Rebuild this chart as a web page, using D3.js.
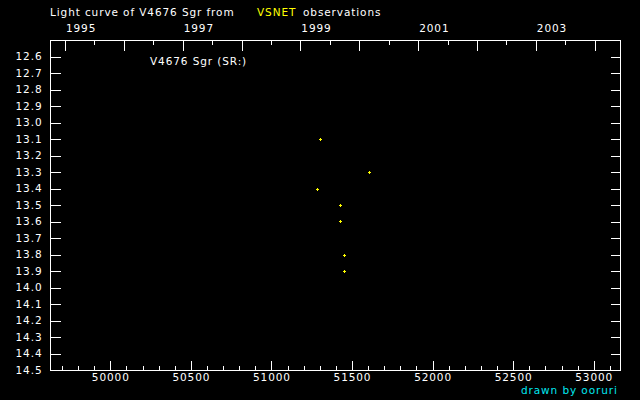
<!DOCTYPE html>
<html>
<head>
<meta charset="utf-8">
<script src="https://cdn.jsdelivr.net/npm/d3@7"></script>
<style>
  body { margin: 0; background: #000; }
  svg { display: block; background: #000; }
  text { font-family: "DejaVu Sans", sans-serif; font-size: 10.5px; letter-spacing: 0.9px; fill: #fff; }
</style>
</head>
<body>
<div id="chart"></div>
<script>
// observations (JD - 2400000, visual magnitude)
var obsJD  = [51303, 51607, 51285, 51427, 51427, 51452, 51452];
var obsMag = [13.1, 13.3, 13.4, 13.5, 13.6, 13.8, 13.9];

// tick labels
var magTicks = [12.6, 12.7, 12.8, 12.9, 13.0, 13.1, 13.2, 13.3, 13.4, 13.5, 13.6, 13.7,
                13.8, 13.9, 14.0, 14.1, 14.2, 14.3, 14.4, 14.5];
var jdTicks = [50000, 50500, 51000, 51500, 52000, 52500, 53000];
var yearLabels = [1995, 1997, 1999, 2001, 2003];
var yearTicks = [1995, 1996, 1997, 1998, 1999, 2000, 2001, 2002, 2003, 2004];

var svgWidth = 640;
var svgHeight = 400;
var plot = { left: 50, right: 620, top: 40, bottom: 370 };

var svg = d3.select("#chart")
    .append("svg")
    .attr("width", svgWidth)
    .attr("height", svgHeight);

// scales
var xScale = d3.scaleLinear()
    .domain([49626, 53163])
    .range([plot.left, plot.right]);

var yScale = d3.scaleLinear()
    .domain([12.5, 14.5])
    .range([plot.top, plot.bottom]);

// convert a (fractional) year to JD - 2400000
function yearToJD(y) {
    var yr = Math.floor(y);
    var t0 = Date.UTC(yr, 0, 1), t1 = Date.UTC(yr + 1, 0, 1);
    var t = t0 + (y - yr) * (t1 - t0);
    return t / 86400000 + 2440587.5 - 2400000;
}

// frame
svg.append("rect")
    .attr("x", plot.left + 0.5)
    .attr("y", plot.top + 0.5)
    .attr("width", plot.right - plot.left)
    .attr("height", plot.bottom - plot.top)
    .attr("fill", "none")
    .attr("stroke", "#fff")
    .attr("shape-rendering", "crispEdges");

function styleAxis(g) {
    g.select(".domain").remove();
    g.selectAll("line").attr("stroke", "#fff").attr("shape-rendering", "crispEdges");
    g.selectAll("text").attr("fill", "#fff").attr("font-family", null).attr("font-size", null);
}

// left magnitude axis
svg.append("g")
    .attr("transform", `translate(${plot.left + 0.5},0)`)
    .call(d3.axisLeft(yScale).tickValues(magTicks).tickSize(-10).tickPadding(8)
        .tickFormat(d3.format(".1f")))
    .call(styleAxis);

// right magnitude axis (ticks only)
svg.append("g")
    .attr("transform", `translate(${plot.right + 0.5},0)`)
    .call(d3.axisRight(yScale).tickValues(magTicks).tickSize(-10).tickFormat(""))
    .call(styleAxis);

// bottom JD axis, minor ticks every 100 days
svg.append("g")
    .attr("transform", `translate(0,${plot.bottom + 0.5})`)
    .call(d3.axisBottom(xScale).tickValues(d3.range(49700, 53200, 100)).tickSize(-5).tickFormat(""))
    .call(styleAxis);

svg.append("g")
    .attr("transform", `translate(0,${plot.bottom + 0.5})`)
    .call(d3.axisBottom(xScale).tickValues(jdTicks).tickSize(-10).tickPadding(3)
        .tickFormat(d3.format("d")))
    .call(styleAxis);

// top year axis
svg.append("g")
    .attr("transform", `translate(0,${plot.top + 0.5})`)
    .call(d3.axisTop(xScale).tickValues(yearTicks.slice(0, -1).map(y => yearToJD(y + 0.5)))
        .tickSize(-4).tickFormat(""))
    .call(styleAxis);

svg.append("g")
    .attr("transform", `translate(0,${plot.top + 0.5})`)
    .call(d3.axisTop(xScale).tickValues(yearTicks.map(yearToJD)).tickSize(-10).tickFormat(""))
    .call(styleAxis);

svg.append("g")
    .selectAll("text")
    .data(yearLabels)
    .enter()
    .append("text")
    .attr("x", d => xScale(yearToJD(d)) + 1)
    .attr("y", 32)
    .attr("text-anchor", "start")
    .text(d => d);

// title
var title = svg.append("text").attr("x", 50).attr("y", 16);
title.append("tspan").text("Light curve of V4676 Sgr from");
title.append("tspan").attr("x", 257).style("fill", "#ffff00").text("VSNET");
title.append("tspan").attr("x", 303).text("observations");

// star label
svg.append("text")
    .attr("x", 150)
    .attr("y", 65)
    .text("V4676 Sgr (SR:)");

// credit
svg.append("text")
    .attr("x", 521)
    .attr("y", 394)
    .style("fill", "#00e8f0")
    .text("drawn by ooruri");

// observation marks
var obs = obsJD.map((d, i) => ({ jd: d, mag: obsMag[i] }));

svg.append("g")
    .selectAll("path")
    .data(obs)
    .enter()
    .append("path")
    .attr("transform", d => `translate(${Math.round(xScale(d.jd)) + 0.5},${Math.round(yScale(d.mag)) + 0.5})`)
    .attr("d", "M-1.5,0H1.5M0,-1.5V1.5")
    .attr("stroke", "#ffff00")
    .attr("stroke-width", 1)
    .attr("shape-rendering", "crispEdges");
</script>
</body>
</html>
